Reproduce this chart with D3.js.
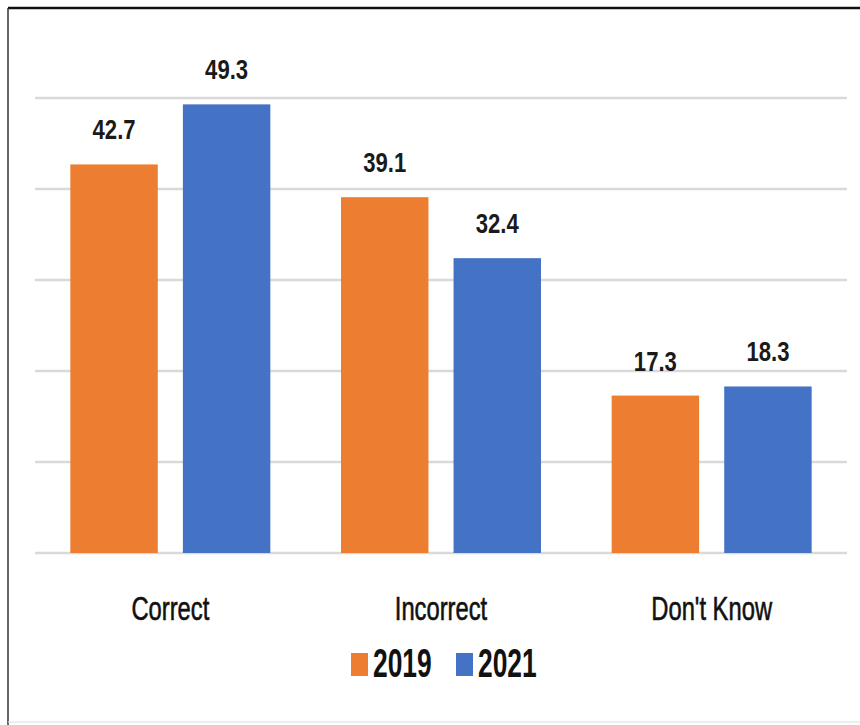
<!DOCTYPE html>
<html><head><meta charset="utf-8">
<script src="https://cdn.jsdelivr.net/npm/d3@7"></script>
<style>body{margin:0;background:#fff;} svg{display:block;}</style>
</head><body>
<svg id="c" width="860" height="725"></svg>
<script>
const categories = ["Correct", "Incorrect", "Don't Know"];
const seriesNames = ["2019", "2021"];
const values2019 = [42.7, 39.1, 17.3];
const values2021 = [49.3, 32.4, 18.3];
const gridTicks = [0, 10, 20, 30, 40, 50];
const colors = ["#ED7D31", "#4472C4"];

const svg = d3.select("#c");
const font = "'Liberation Sans', Arial, sans-serif";

// frame
svg.append("line").attr("x1",8).attr("x2",860).attr("y1",8).attr("y2",8).attr("stroke","#111").attr("stroke-width",2.5);
svg.append("line").attr("x1",8).attr("x2",8).attr("y1",8).attr("y2",725).attr("stroke","#333").attr("stroke-width",1.5);
svg.append("line").attr("x1",8).attr("x2",860).attr("y1",722).attr("y2",722).attr("stroke","#ddd").attr("stroke-width",1);

const x0 = d3.scaleBand().domain(categories).range([35, 847]).paddingInner(0).paddingOuter(0);
const x1 = d3.scaleBand().domain(seriesNames).range([35, 235]).paddingInner(0.223).paddingOuter(0);
const y = d3.scaleLinear().domain([0, 50]).range([553, 98]);

// gridlines
svg.append("g").selectAll("line").data(gridTicks).join("line")
  .attr("x1", 35).attr("x2", 847)
  .attr("y1", d => y(d)).attr("y2", d => y(d))
  .attr("stroke", "#d9d9d9").attr("stroke-width", 2.5);

const data = categories.map((c, i) => ({cat: c, vals: [values2019[i], values2021[i]]}));

const groups = svg.append("g").selectAll("g").data(data).join("g")
  .attr("transform", d => `translate(${x0(d.cat) + x0.bandwidth()/2 - 100},0)`);

groups.selectAll("rect").data(d => d.vals.map((v, j) => ({v, s: seriesNames[j], j}))).join("rect")
  .attr("x", d => x1(d.s) - 35)
  .attr("width", x1.bandwidth())
  .attr("y", d => y(d.v))
  .attr("height", d => y(0) - y(d.v))
  .attr("fill", d => colors[d.j]);

groups.selectAll("text.val").data(d => d.vals.map((v, j) => ({v, s: seriesNames[j], j}))).join("text")
  .attr("class", "val")
  .attr("transform", d => `translate(${x1(d.s) - 35 + x1.bandwidth()/2},${y(d.v) - 25}) scale(0.79,1)`)
  .attr("text-anchor", "middle")
  .attr("font-family", font).attr("font-weight", "bold").attr("font-size", 28)
  .attr("fill", "#1a1a1a")
  .text(d => d.v.toFixed(1));

// category labels
svg.append("g").selectAll("text").data(categories).join("text")
  .attr("transform", d => `translate(${x0(d) + x0.bandwidth()/2},620) scale(0.72,1)`)
  .attr("text-anchor", "middle")
  .attr("font-family", font).attr("font-size", 33)
  .attr("fill", "#111").attr("stroke", "#111").attr("stroke-width", 0.6)
  .text(d => d);

// legend
const legX = [351, 456];
const leg = svg.append("g").selectAll("g").data(seriesNames).join("g")
  .attr("transform", (d, i) => `translate(${legX[i]},0)`);
leg.append("rect").attr("x", 0).attr("y", 653).attr("width", 17).attr("height", 23)
  .attr("fill", (d, i) => colors[i]);
leg.append("text").attr("transform", "translate(22,677) scale(0.66,1)")
  .attr("font-family", font).attr("font-weight", "bold").attr("font-size", 40)
  .attr("fill", "#111").text(d => d);
</script>
</body></html>
